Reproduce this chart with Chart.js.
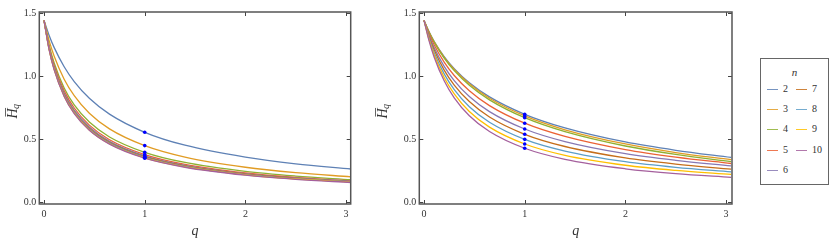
<!DOCTYPE html>
<html>
<head>
<meta charset="utf-8">
<script src="https://cdn.jsdelivr.net/npm/chart.js@4.4.0/dist/chart.umd.min.js"></script>
<style>
  body { margin: 0; background: #fff; }
  #wrap { position: relative; width: 830px; height: 245px; overflow: hidden; }
  canvas { position: absolute; top: 0; }
  #legend {
    position: absolute; left: 760px; top: 58px; width: 69px; height: 127px;
    border: 1px solid #666; box-sizing: border-box;
    font-family: 'Liberation Serif', 'DejaVu Serif', serif; color: #333;
  }
  #legend .title { position: absolute; left: 0; width: 100%; top: 7px; text-align: center; font-style: italic; font-size: 11px; }
  #legend .swatch { position: absolute; height: 1px; width: 11px; opacity: 0.85; }
  #legend .lab { position: absolute; font-size: 10px; line-height: 10px; }
</style>
</head>
<body>
<div id="wrap">
  <canvas id="leftChart" width="360" height="245" style="left:0"></canvas>
  <canvas id="rightChart" width="370" height="245" style="left:370px"></canvas>
  <div id="legend"><div class="title">n</div></div>
</div>
<script>
const qValues = [0, 0.05, 0.1, 0.2, 0.3, 0.45, 0.65, 1, 1.4, 2, 2.5, 3.05];
const nLabels = ['2', '3', '4', '5', '6', '7', '8', '9', '10'];
const xTicks = [0, 1, 2, 3];
const yTicks = [0, 0.5, 1, 1.5];

// left panel, one row per n (2..10)
const leftValues = [
  [1.443, 1.326, 1.229, 1.075, 0.957, 0.824, 0.698, 0.554, 0.451, 0.356, 0.303, 0.262],
  [1.443, 1.284, 1.160, 0.976, 0.845, 0.705, 0.581, 0.448, 0.357, 0.276, 0.233, 0.200],
  [1.443, 1.249, 1.107, 0.906, 0.771, 0.635, 0.517, 0.395, 0.314, 0.243, 0.206, 0.177],
  [1.443, 1.237, 1.088, 0.883, 0.747, 0.611, 0.495, 0.377, 0.299, 0.231, 0.195, 0.168],
  [1.443, 1.227, 1.074, 0.866, 0.730, 0.596, 0.482, 0.367, 0.291, 0.225, 0.191, 0.164],
  [1.443, 1.221, 1.065, 0.855, 0.719, 0.586, 0.474, 0.360, 0.286, 0.221, 0.188, 0.162],
  [1.443, 1.217, 1.059, 0.847, 0.712, 0.579, 0.468, 0.355, 0.282, 0.218, 0.185, 0.159],
  [1.443, 1.213, 1.054, 0.841, 0.706, 0.573, 0.463, 0.351, 0.279, 0.216, 0.183, 0.157],
  [1.443, 1.212, 1.052, 0.839, 0.702, 0.570, 0.460, 0.348, 0.276, 0.213, 0.180, 0.155]
];

// right panel, one row per n (2..10)
const rightValues = [
  [1.443, 1.352, 1.277, 1.155, 1.059, 0.947, 0.835, 0.697, 0.589, 0.477, 0.411, 0.354],
  [1.443, 1.350, 1.274, 1.150, 1.053, 0.939, 0.824, 0.684, 0.574, 0.461, 0.393, 0.336],
  [1.443, 1.348, 1.270, 1.144, 1.044, 0.928, 0.812, 0.670, 0.559, 0.445, 0.378, 0.321],
  [1.443, 1.337, 1.250, 1.112, 1.005, 0.884, 0.766, 0.626, 0.521, 0.416, 0.356, 0.306],
  [1.443, 1.324, 1.228, 1.078, 0.965, 0.838, 0.718, 0.580, 0.480, 0.384, 0.331, 0.287],
  [1.443, 1.313, 1.210, 1.048, 0.929, 0.798, 0.675, 0.538, 0.441, 0.350, 0.301, 0.261],
  [1.443, 1.302, 1.189, 1.018, 0.893, 0.757, 0.634, 0.498, 0.405, 0.320, 0.275, 0.240],
  [1.443, 1.290, 1.170, 0.989, 0.859, 0.719, 0.595, 0.461, 0.371, 0.292, 0.251, 0.219],
  [1.443, 1.280, 1.153, 0.963, 0.828, 0.685, 0.560, 0.427, 0.339, 0.264, 0.225, 0.196]
];

const lineColors = ['#5E81B5', '#E19C24', '#8FB032', '#EB6235', '#8778B3',
                    '#C56E1A', '#5D9EC7', '#FFBF00', '#A5609D'];
const serif = "'Liberation Serif', 'DejaVu Serif', serif";

// frame, inward ticks and axis titles (Mathematica style)
const framePlugin = {
  id: 'frame',
  afterDraw(chart, args, opts) {
    const { ctx, chartArea: a, scales: { x, y } } = chart;
    ctx.save();
    ctx.strokeStyle = '#444';
    ctx.lineWidth = 1;
    ctx.beginPath();
    xTicks.forEach(v => {
      const px = Math.round(x.getPixelForValue(v)) + 0.5;
      ctx.moveTo(px, a.bottom); ctx.lineTo(px, a.bottom - 4);
      ctx.moveTo(px, a.top); ctx.lineTo(px, a.top + 4);
    });
    yTicks.forEach(v => {
      const py = Math.round(y.getPixelForValue(v)) + 0.5;
      ctx.moveTo(a.left, py); ctx.lineTo(a.left + 4, py);
      ctx.moveTo(a.right, py); ctx.lineTo(a.right - 4, py);
    });
    ctx.stroke();
    ctx.strokeStyle = '#555';
    ctx.lineWidth = 1.5;
    ctx.strokeRect(a.left, a.top, a.right - a.left, a.bottom - a.top);

    // x title
    ctx.fillStyle = '#333';
    ctx.font = 'italic 14px ' + serif;
    ctx.textAlign = 'center';
    ctx.textBaseline = 'middle';
    ctx.fillText('q', (a.left + a.right) / 2, 231);

    // y title: H with bar, subscript q
    ctx.translate(opts.titleX, (a.top + a.bottom) / 2 + 3);
    ctx.rotate(-Math.PI / 2);
    ctx.textAlign = 'left';
    ctx.textBaseline = 'alphabetic';
    ctx.font = 'italic 14px ' + serif;
    const wH = ctx.measureText('H').width;
    ctx.font = 'italic 10px ' + serif;
    const wq = ctx.measureText('q').width;
    const x0 = -(wH + wq) / 2;
    ctx.font = 'italic 14px ' + serif;
    ctx.fillText('H', x0, 4.5);
    ctx.lineWidth = 0.9;
    ctx.beginPath();
    ctx.moveTo(x0 + 2, -6.5); ctx.lineTo(x0 + wH + 0.5, -6.5);
    ctx.stroke();
    ctx.font = 'italic 10px ' + serif;
    ctx.fillText('q', x0 + wH - 0.5, 7);
    ctx.restore();
  }
};

function makeChart(id, series, axisWidth, padRight, xMax) {
  const qIdx = qValues.indexOf(1);
  const datasets = series.map((vals, i) => ({
    label: 'n = ' + nLabels[i],
    data: qValues.map((q, j) => ({ x: q, y: vals[j] })),
    borderColor: lineColors[i],
    borderWidth: 1.3,
    pointRadius: 0,
    fill: false,
    cubicInterpolationMode: 'monotone',
    order: series.length - i
  }));
  // Shannon points at q = 1
  datasets.push({
    label: 'q = 1',
    data: series.map(vals => ({ x: 1, y: vals[qIdx] })),
    showLine: false,
    pointRadius: 1.8,
    pointBackgroundColor: '#0000ff',
    pointBorderWidth: 0,
    order: -1
  });

  return new Chart(document.getElementById(id), {
    type: 'line',
    data: { datasets },
    options: {
      responsive: false,
      animation: false,
      devicePixelRatio: 1,
      layout: { padding: { top: 12, right: padRight, left: 0, bottom: 0 } },
      plugins: {
        legend: { display: false },
        tooltip: { enabled: false },
        frame: { titleX: 12 }
      },
      scales: {
        x: {
          type: 'linear',
          min: -0.047,
          max: xMax,
          afterBuildTicks: s => { s.ticks = xTicks.map(v => ({ value: v })); },
          afterFit: s => { s.height = 41; },
          grid: { display: false, drawTicks: false },
          border: { display: false },
          ticks: { padding: 4, color: '#333', font: { family: serif, size: 10 }, maxRotation: 0,
                   callback: v => String(v) }
        },
        y: {
          type: 'linear',
          min: -0.016,
          max: 1.51,
          afterBuildTicks: s => { s.ticks = yTicks.map(v => ({ value: v })); },
          afterFit: s => { s.width = axisWidth; },
          grid: { display: false, drawTicks: false },
          border: { display: false },
          ticks: { padding: 3, color: '#333', font: { family: serif, size: 10 },
                   callback: v => v.toFixed(1) }
        }
      }
    },
    plugins: [framePlugin]
  });
}

makeChart('leftChart', leftValues, 39.3, 9.3, 3.046);
makeChart('rightChart', rightValues, 49.3, 8, 3.059);

// --- Legend: two columns, 2..6 and 7..10 ---
const legend = document.getElementById('legend');
nLabels.forEach((lab, i) => {
  const col = i < 5 ? 0 : 1;
  const row = i < 5 ? i : i - 5;
  const cy = 30.5 + row * 20.2;
  const sw = document.createElement('div');
  sw.className = 'swatch';
  sw.style.background = lineColors[i];
  sw.style.left = (col === 0 ? 6 : 35) + 'px';
  sw.style.top = (cy - 0.5) + 'px';
  legend.appendChild(sw);
  const t = document.createElement('div');
  t.className = 'lab';
  t.textContent = lab;
  t.style.left = (col === 0 ? 22 : 51) + 'px';
  t.style.top = (cy - 5.5) + 'px';
  legend.appendChild(t);
});
</script>
</body>
</html>
